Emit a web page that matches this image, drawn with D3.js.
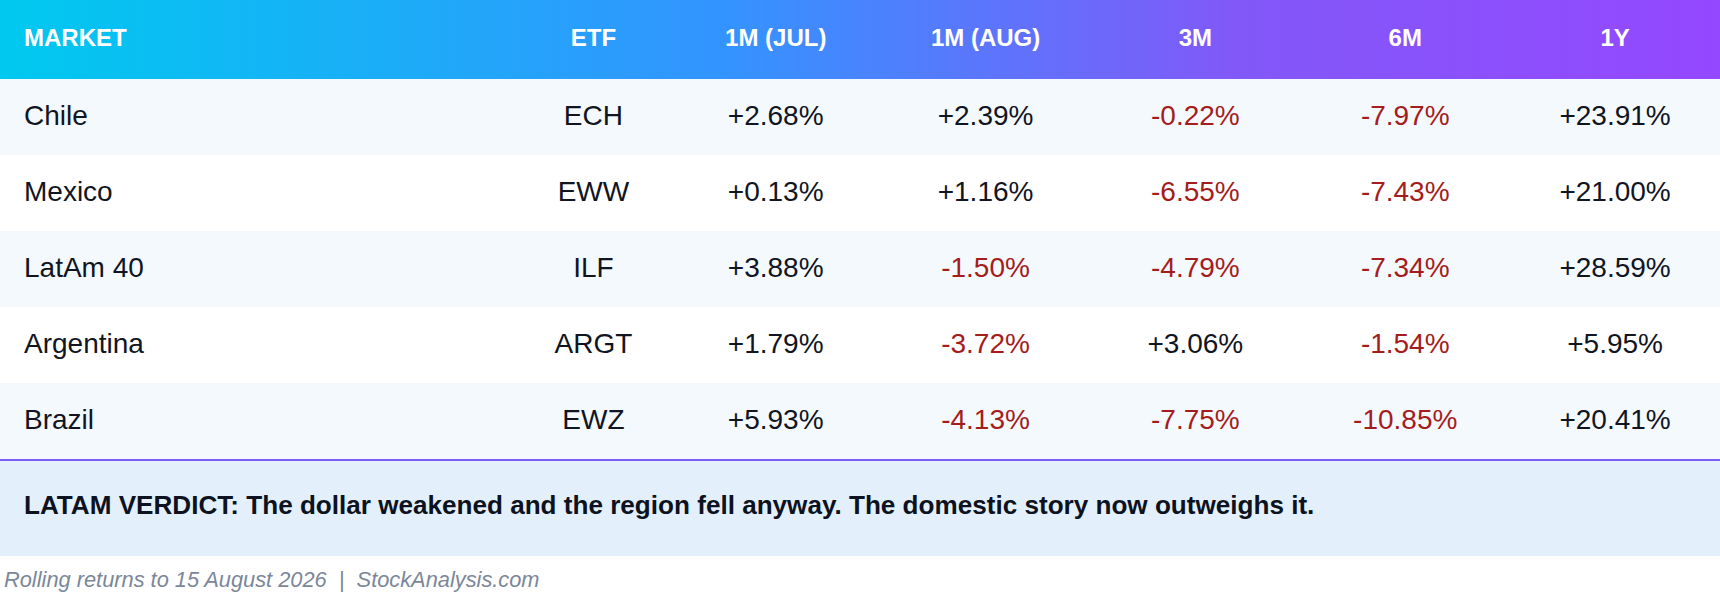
<!DOCTYPE html>
<html>
<head>
<meta charset="utf-8">
<script src="https://cdn.jsdelivr.net/npm/d3@7"></script>
<style>
  html, body { margin: 0; padding: 0; background: #ffffff; }
  svg { display: block; font-family: "Liberation Sans", Arial, sans-serif; }
</style>
</head>
<body>
<svg id="chart"></svg>
<script>
var width = 1720;
var height = 608;

// table data
var columns = ['MARKET', 'ETF', '1M (JUL)', '1M (AUG)', '3M', '6M', '1Y'];
var markets = ['Chile', 'Mexico', 'LatAm 40', 'Argentina', 'Brazil'];
var etfs = ['ECH', 'EWW', 'ILF', 'ARGT', 'EWZ'];
var retJul = [2.68, 0.13, 3.88, 1.79, 5.93];
var retAug = [2.39, 1.16, -1.50, -3.72, -4.13];
var ret3m = [-0.22, -6.55, -4.79, 3.06, -7.75];
var ret6m = [-7.97, -7.43, -7.34, -1.54, -10.85];
var ret1y = [23.91, 21.00, 28.59, 5.95, 20.41];

var verdict = 'LATAM VERDICT: The dollar weakened and the region fell anyway. The domestic story now outweighs it.';
var footnote = 'Rolling returns to 15 August 2026  |  StockAnalysis.com';

// column widths as share of table width
var colShare = [0.30, 0.09, 0.122, 0.122, 0.122, 0.122, 0.122];

var headerH = 79;
var rowH = 76;
var tableTop = headerH;
var tableBottom = tableTop + rowH * markets.length;   // 459
var verdictTop = tableBottom + 2;
var verdictH = 95;

var svg = d3.select('#chart')
    .attr('width', width)
    .attr('height', height);

// x positions of columns
var edges = [0];
colShare.forEach(function (s, i) { edges.push(edges[i] + s); });
var x = d3.scaleLinear().domain([0, 1]).range([0, width]);
function colCenter(i) { return x((edges[i] + edges[i + 1]) / 2); }

var y = d3.scaleBand()
    .domain(markets)
    .range([tableTop, tableBottom]);

// header gradient
var defs = svg.append('defs');
var grad = defs.append('linearGradient')
    .attr('id', 'hdr')
    .attr('x1', '0%').attr('x2', '100%')
    .attr('y1', '0%').attr('y2', '0%');
grad.append('stop').attr('offset', '0%').attr('stop-color', '#00c9ef');
grad.append('stop').attr('offset', '42%').attr('stop-color', '#3394ff');
grad.append('stop').attr('offset', '72%').attr('stop-color', '#8258f8');
grad.append('stop').attr('offset', '100%').attr('stop-color', '#9448ff');

svg.append('rect')
    .attr('x', 0).attr('y', 0)
    .attr('width', width).attr('height', headerH)
    .attr('fill', 'url(#hdr)');

svg.selectAll('text.hdr')
    .data(columns)
    .enter()
    .append('text')
    .attr('class', 'hdr')
    .attr('x', function (d, i) { return i === 0 ? 24 : colCenter(i); })
    .attr('y', headerH / 2 - 2)
    .attr('dy', '0.36em')
    .attr('text-anchor', function (d, i) { return i === 0 ? 'start' : 'middle'; })
    .attr('font-size', 24)
    .attr('font-weight', 'bold')
    .attr('fill', '#ffffff')
    .text(function (d) { return d; });

// row backgrounds
svg.selectAll('rect.row')
    .data(markets)
    .enter()
    .append('rect')
    .attr('class', 'row')
    .attr('x', 0)
    .attr('y', function (d) { return y(d); })
    .attr('width', width)
    .attr('height', y.bandwidth())
    .attr('fill', function (d, i) { return i % 2 === 0 ? '#f4f9fe' : '#ffffff'; });

function fmt(v) {
    return (v >= 0 ? '+' : '') + v.toFixed(2) + '%';
}

var rows = markets.map(function (m, i) {
    return [m, etfs[i], retJul[i], retAug[i], ret3m[i], ret6m[i], ret1y[i]];
});

var rowG = svg.selectAll('g.tr')
    .data(rows)
    .enter()
    .append('g')
    .attr('class', 'tr')
    .attr('transform', function (d, i) {
        return 'translate(0,' + (y(markets[i]) + y.bandwidth() / 2 - 2) + ')';
    });

rowG.selectAll('text')
    .data(function (d) { return d; })
    .enter()
    .append('text')
    .attr('x', function (d, i) { return i === 0 ? 24 : colCenter(i); })
    .attr('y', 0)
    .attr('dy', '0.36em')
    .attr('text-anchor', function (d, i) { return i === 0 ? 'start' : 'middle'; })
    .attr('font-size', 28)
    .attr('fill', function (d, i) {
        return (i > 1 && d < 0) ? '#a51c1c' : '#111522';
    })
    .text(function (d, i) { return i > 1 ? fmt(d) : d; });

// divider line
svg.append('line')
    .attr('x1', 0).attr('x2', width)
    .attr('y1', tableBottom + 1).attr('y2', tableBottom + 1)
    .attr('stroke', '#7c5cf2')
    .attr('stroke-width', 2);

// verdict box
svg.append('rect')
    .attr('x', 0).attr('y', verdictTop)
    .attr('width', width).attr('height', verdictH)
    .attr('fill', '#e3f0fc');

svg.append('text')
    .attr('x', 24)
    .attr('y', verdictTop + verdictH / 2 - 4)
    .attr('dy', '0.36em')
    .attr('font-size', 26.1)
    .attr('font-weight', 'bold')
    .attr('fill', '#0d1220')
    .text(verdict);

// footnote
svg.append('text')
    .attr('x', 4)
    .attr('y', 579)
    .attr('dy', '0.36em')
    .attr('font-size', 21.8)
    .attr('font-style', 'italic')
    .attr('fill', '#7b8799')
    .style('white-space', 'pre')
    .text(footnote);
</script>
</body>
</html>
